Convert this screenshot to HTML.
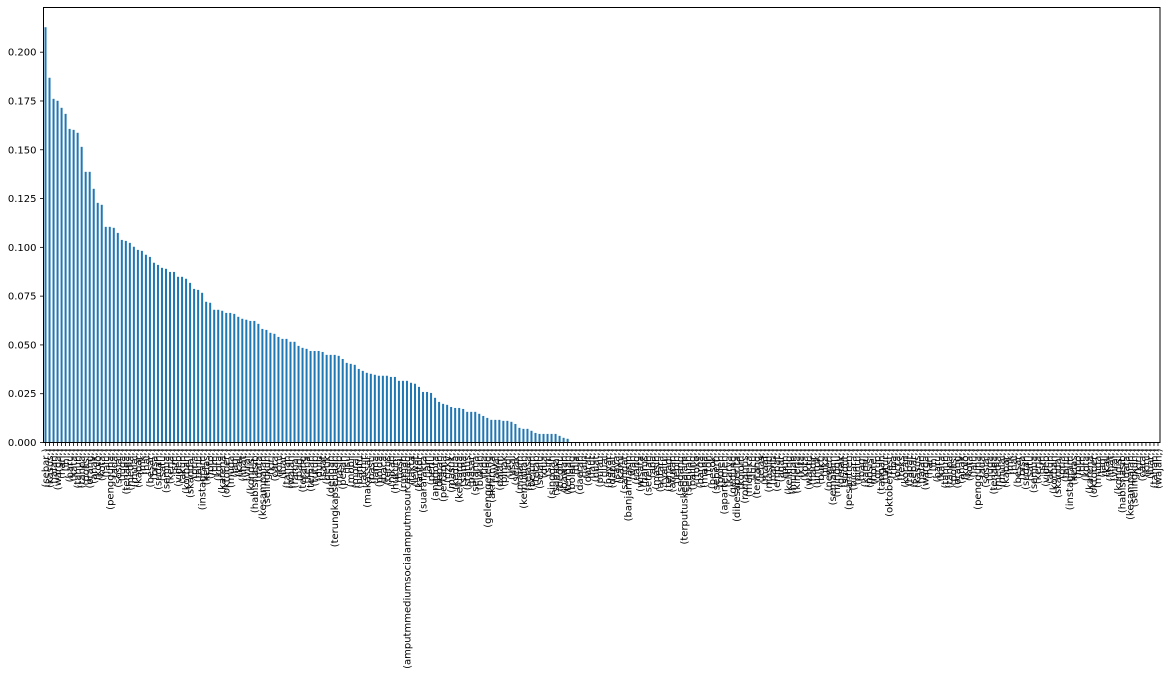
<!DOCTYPE html>
<html><head><meta charset="utf-8"><style>
html,body{margin:0;padding:0;background:#fff;}
svg{display:block;font-family:"DejaVu Sans","Liberation Sans",sans-serif;}
</style></head><body>
<svg id="chart" width="1168" height="686" viewBox="0 0 1168 686" xmlns="http://www.w3.org/2000/svg">
<rect width="1168" height="686" fill="#fff"/>
<g id="bars"></g>
<g id="yaxis"></g>
<g id="xaxis"></g>
<rect x="43.5" y="7.5" width="1116.5" height="435" fill="none" stroke="#000" stroke-width="1"/>
</svg>
<script>
const values = [0.2128,0.1869,0.1761,0.1751,0.1715,0.1684,0.1607,0.1602,0.1587,0.1515,
0.1387,0.1387,0.1300,0.1228,0.1218,0.1105,0.1105,0.1100,0.1074,0.1038,
0.1033,0.1023,0.1003,0.0987,0.0982,0.0962,0.0951,0.0921,0.0910,0.0895,
0.0890,0.0874,0.0874,0.0849,0.0849,0.0839,0.0818,0.0787,0.0782,0.0767,
0.0721,0.0716,0.0680,0.0680,0.0675,0.0664,0.0664,0.0659,0.0644,0.0634,
0.0629,0.0623,0.0623,0.0608,0.0582,0.0577,0.0562,0.0557,0.0541,0.0531,
0.0531,0.0516,0.0516,0.0495,0.0485,0.0480,0.0469,0.0469,0.0469,0.0464,
0.0449,0.0449,0.0449,0.0444,0.0428,0.0408,0.0403,0.0398,0.0377,0.0367,
0.0357,0.0352,0.0347,0.0342,0.0342,0.0342,0.0336,0.0336,0.0316,0.0316,
0.0316,0.0306,0.0301,0.0285,0.0259,0.0259,0.0254,0.0229,0.0208,0.0198,
0.0193,0.0182,0.0177,0.0177,0.0172,0.0157,0.0157,0.0157,0.0147,0.0136,
0.0126,0.0116,0.0116,0.0116,0.0111,0.0111,0.0106,0.0095,0.0075,0.0070,
0.0070,0.0060,0.0049,0.0044,0.0044,0.0044,0.0044,0.0044,0.0034,0.0024,0.0019,
0,0,0,0,0,0,0,0,0,0,0,0,0,0,0,0,0,0,0,0,
0,0,0,0,0,0,0,0,0,0,0,0,0,0,0,0,0,0,0,0,
0,0,0,0,0,0,0,0,0,0,0,0,0,0,0,0,0,0,0,0,
0,0,0,0,0,0,0,0,0,0,0,0,0,0,0,0,0,0,0,0,
0,0,0,0,0,0,0,0,0,0,0,0,0,0,0,0,0,0,0,0,
0,0,0,0,0,0,0,0,0,0,0,0,0,0,0,0,0,0,0,0,
0,0,0,0,0,0,0,0,0,0,0,0,0,0,0,0,0,0,0,0,
0,0,0,0,0,0,0];
const categoryWords = ("sebar kasus jalan warga hari ini baru kata tahun tanpa polisi orang anak kolo kota lalu pengguna ada sosial juga tenaga media mulai kabar mk hal besar bisa sudah satu semua kerja sm video akun korban skandal pria tahu instagram kelas foto tim kota karena oktober muda lagi kali lihat viral kondisi habisnasib data kesampaian selingkuh kiri cara kini luar tahan wajah ramai pagi terang kena teman tutup dulu saat detik dengan terungkapsebuah nasib pesan isu mobil moral bantu akhir makassar pasti lama polda baca terus nikah hukum hasil rumah amputmmediumsocialamputmsourcefeed fakta lewat kantor suarafakta jam perlu anggota depan pertama rizky masuk kedua keluarga sama status pasar selama bukan tiga gelenggeleng akhirnya awal dalam pihak jadi usai sejak malam kemudian selasa belum tetap selalu dua sini singgah sampai begitu bawah tengah bolong dia daerah lain darat laut buat pulau jual bayar dapat saya kami sangat banjarmasin wah uang wisata harus setelah apa masih antara yaitu terjadi aturan lebih sedang terputuskedalam sebuah paling toko harga mana toh besok seperti boleh apartemen karya gedung dibesaberita kolom romantis mereka lucu tentang jelas maaf masjid nanti empat agar pun keliling mudah kinerja kita kota waktu hadir untuk bukti jika negeri semalam minggu gerak sudut pesantren bicara pintu bagi kamu posisi hotel grup tangan tutur oktoberfest tiba octa teks koran rapat").split(" ");
const N = values.length;
const categories = [];
for (let i = 0; i < N; i++) categories.push("(" + categoryWords[i % categoryWords.length] + ",)");
const yTicks = [0, 0.025, 0.05, 0.075, 0.1, 0.125, 0.15, 0.175, 0.2];
const yTickLabels = ["0.000","0.025","0.050","0.075","0.100","0.125","0.150","0.175","0.200"];

const NS = "http://www.w3.org/2000/svg";
const X0 = 43.5, X1 = 1160, Y0 = 442.5, YTOP = 7.5, YMAX = 0.2229;
const step = (X1 - X0) / N;
const xScale = i => X0 + step * (i + 0.5);
const yScale = v => Y0 - (v / YMAX) * (Y0 - YTOP);

const bars = document.getElementById('bars');
const xaxis = document.getElementById('xaxis');
const yaxis = document.getElementById('yaxis');
values.forEach((v, i) => {
  const cx = xScale(i);
  const r = document.createElementNS(NS, 'rect');
  r.setAttribute('x', cx - step * 0.25);
  r.setAttribute('width', step * 0.5);
  r.setAttribute('y', yScale(v));
  r.setAttribute('height', Math.max(0, Y0 - yScale(v)));
  r.setAttribute('fill', '#1f77b4');
  
  
  bars.appendChild(r);
  const t = document.createElementNS(NS, 'line');
  t.setAttribute('x1', cx); t.setAttribute('x2', cx);
  t.setAttribute('y1', Y0); t.setAttribute('y2', Y0 + 3.5);
  t.setAttribute('stroke', '#000'); t.setAttribute('stroke-width', '0.8');
  
  
  xaxis.appendChild(t);
  const l = document.createElementNS(NS, 'text');
  l.setAttribute('transform', 'translate(' + (cx + 3.5) + ',' + (Y0 + 6) + ') rotate(-90)');
  l.setAttribute('text-anchor', 'end');
  l.setAttribute('font-size', '10');
  l.setAttribute('fill', '#000');
  l.textContent = categories[i];
  
  
  xaxis.appendChild(l);
});
yTicks.forEach((v, k) => {
  const y = yScale(v);
  const t = document.createElementNS(NS, 'line');
  t.setAttribute('x1', X0 - 3.5); t.setAttribute('x2', X0);
  t.setAttribute('y1', y); t.setAttribute('y2', y);
  t.setAttribute('stroke', '#000'); t.setAttribute('stroke-width', '0.8');
  
  
  yaxis.appendChild(t);
  const l = document.createElementNS(NS, 'text');
  l.setAttribute('x', X0 - 7); l.setAttribute('y', y + 3.5);
  l.setAttribute('text-anchor', 'end');
  l.setAttribute('font-size', '10');
  l.setAttribute('fill', '#000');
  l.textContent = yTickLabels[k];
  
  
  yaxis.appendChild(l);
});
</script>
</body></html>
